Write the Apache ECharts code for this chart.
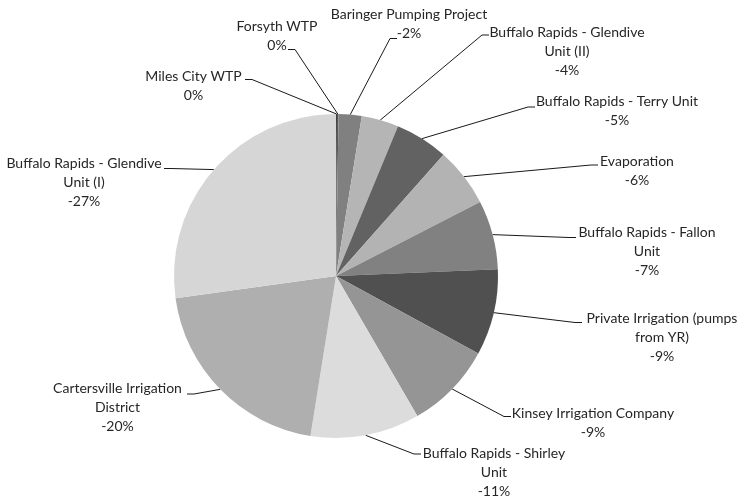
<!DOCTYPE html>
<html><head><meta charset="utf-8">
<script src="https://cdn.jsdelivr.net/npm/echarts@6/dist/echarts.min.js"></script>
<style>html,body{margin:0;padding:0;background:#fff}#c{width:739px;height:500px}</style>
</head><body><div id="c"></div>
<script>
// Slices clockwise from 12 o'clock
const categories = [
  'Miles City WTP',
  'Forsyth WTP',
  'Baringer Pumping Project',
  'Buffalo Rapids - Glendive\nUnit (II)',
  'Buffalo Rapids - Terry Unit',
  'Evaporation',
  'Buffalo Rapids - Fallon\nUnit',
  'Private Irrigation (pumps\nfrom YR)',
  'Kinsey Irrigation Company',
  'Buffalo Rapids - Shirley\nUnit',
  'Cartersville Irrigation\nDistrict',
  'Buffalo Rapids - Glendive\nUnit (I)'
];
const values = [-0.1, -0.15, -2.3, -3.7, -5.3, -5.9, -6.9, -8.6, -8.7, -10.9, -20.3, -27.2];
const colors = ['#3f3f3f', '#5a5a5a', '#808080', '#b5b5b5', '#626262', '#b3b3b3', '#818181', '#505050', '#959595', '#dcdcdc', '#afafaf', '#d6d6d6'];

// Label placement (centre x of text block, centre y of its first line) and leader-line end point
const labelCenters = [[193.5, 76], [277, 26], [409, 14], [567, 32], [617, 101], [637, 161], [647, 232], [662, 318.5], [593, 413.5], [494, 453], [117.5, 388.5], [84, 163]];
const leaderEnds = [[245, 79.5], [288, 49.5], [397, 38.5], [489, 35], [535, 107], [598, 165], [576, 237.5], [582, 322.5], [511, 416.5], [421, 454], [187, 394], [164, 168.5]];

const FONT = 'Lato, "Open Sans", sans-serif';
const chart = echarts.init(document.getElementById('c'), null, {renderer: 'canvas'});
const data = categories.map((n, i) => ({
  name: n,
  value: Math.abs(values[i]),
  itemStyle: {color: colors[i]}
}));
chart.setOption({
  animation: false,
  backgroundColor: '#fff',
  series: [{
    type: 'pie',
    center: [336, 276],
    radius: [0, 162],
    startAngle: 90,
    clockwise: true,
    avoidLabelOverlap: false,
    itemStyle: {borderWidth: 0},
    data: data,
    label: {
      position: 'outside',
      width: 220,
      color: '#262626',
      fontFamily: FONT,
      fontSize: 14,
      lineHeight: 19,
      formatter: p => {
        const lines = p.name.split('\n').concat([`${Math.round(values[p.dataIndex])}%`]);
        return lines.map(l => `{c|${l}}`).join('\n');
      },
      rich: {c: {align: 'center', fontFamily: FONT, fontSize: 14, lineHeight: 19, color: '#262626'}}
    },
    labelLine: {
      show: true,
      length: 20,
      length2: 20,
      lineStyle: {color: '#1a1a1a', width: 1}
    },
    labelLayout: p => {
      const i = p.dataIndex;
      const c = labelCenters[i], e = leaderEnds[i];
      const dir = c[0] > e[0] ? 1 : -1;
      const start = (p.labelLinePoints && p.labelLinePoints[0]) || e;
      return {
        x: c[0],
        y: c[1] - 9.5,
        align: 'center',
        verticalAlign: 'top',
        labelLinePoints: [start, [e[0] - 7 * dir, e[1]], e]
      };
    }
  }]
});
</script>
</body></html>
